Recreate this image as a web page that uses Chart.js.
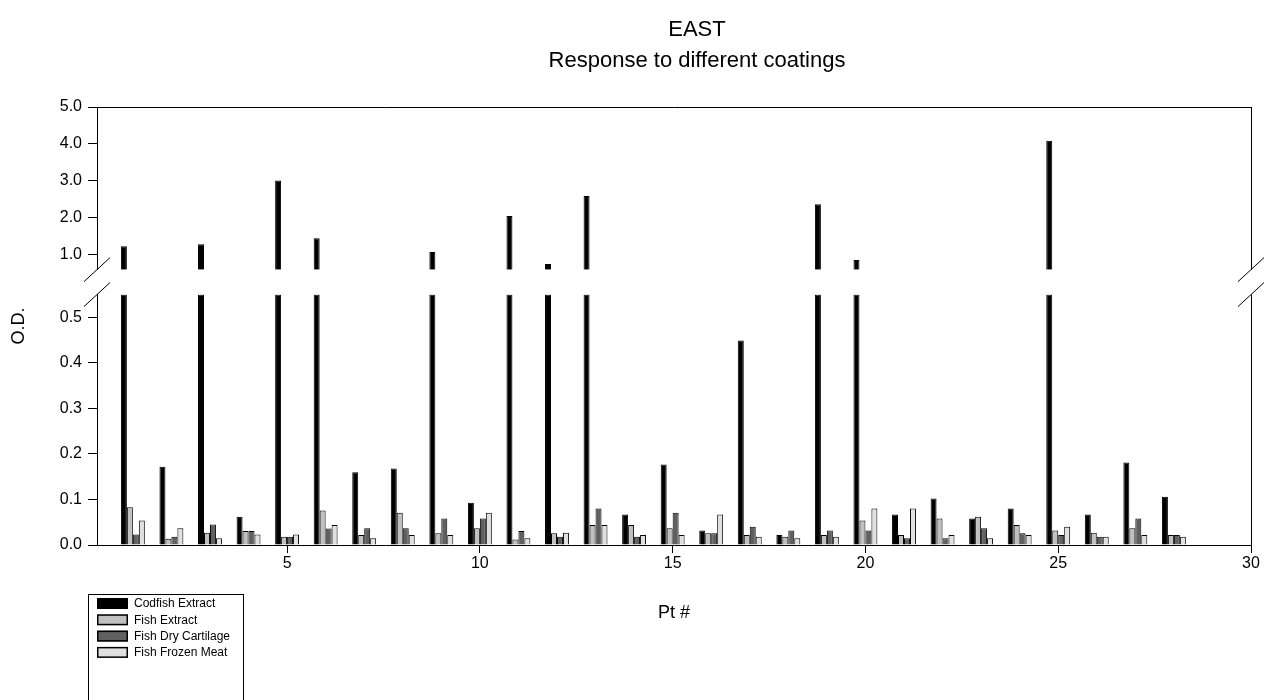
<!DOCTYPE html>
<html>
<head>
<meta charset="utf-8">
<script src="https://cdn.jsdelivr.net/npm/chart.js@4.4.1/dist/chart.umd.min.js"></script>
<style>
html,body{margin:0;padding:0;background:#fff;overflow:hidden}
#wrap{position:relative;width:1270px;height:700px}
</style>
</head>
<body>
<div id="wrap"><canvas id="c" width="1270" height="700"></canvas></div>
<script>
// ---- data ----
const titleLines = ['EAST', 'Response to different coatings'];
const xTitle = 'Pt #';
const yTitle = 'O.D.';
const seriesNames = ['Codfish Extract', 'Fish Extract', 'Fish Dry Cartilage', 'Fish Frozen Meat'];
const seriesColors = ['#000000', '#c0c0c0', '#606060', '#e0e0e0'];
const pts = [1,2,3,4,5,6,7,8,9,10,11,12,13,14,15,16,17,18,19,20,21,22,23,24,25,26,27,28];
const codfish      = [1.23,0.172,1.29,0.062,3.01,1.45,0.160,0.168,1.08,0.093,2.05,0.75,2.59,0.067,0.177,0.032,0.449,0.022,2.37,0.86,0.067,0.102,0.058,0.080,4.09,0.067,0.181,0.106];
const fishExtract  = [0.083,0.014,0.027,0.031,0.018,0.076,0.022,0.071,0.026,0.037,0.012,0.026,0.044,0.044,0.037,0.026,0.022,0.018,0.022,0.054,0.022,0.058,0.062,0.044,0.032,0.027,0.037,0.022];
const dryCartilage = [0.023,0.018,0.045,0.031,0.018,0.036,0.037,0.037,0.058,0.058,0.031,0.018,0.080,0.018,0.071,0.026,0.040,0.032,0.032,0.032,0.015,0.015,0.037,0.026,0.022,0.018,0.058,0.022];
const frozenMeat   = [0.054,0.037,0.015,0.023,0.023,0.044,0.015,0.022,0.022,0.071,0.015,0.027,0.044,0.022,0.022,0.067,0.018,0.015,0.018,0.080,0.080,0.022,0.015,0.022,0.040,0.018,0.022,0.018];
const xTicks = [5, 10, 15, 20, 25, 30];
const lowTicks = [0, 0.1, 0.2, 0.3, 0.4, 0.5];
const highTicks = [1, 2, 3, 4, 5];
const xRange = [0.07, 30];
const lowRange = [0, 0.55];
const highRange = [0.6, 5];

// ---- build ----
const FONT = '"Liberation Sans", Arial, sans-serif';
const series = [codfish, fishExtract, dryCartilage, frozenMeat];
const toXY = arr => arr.map((v, i) => ({x: pts[i], y: v}));
const lowPart = arr => arr.map(v => Math.min(v, lowRange[1]));
const highPart = arr => arr.map(v => (v > highRange[0] ? v : null));

const barStyle = (i) => ({
  backgroundColor: seriesColors[i],
  borderColor: '#000',
  borderWidth: 1,
  borderSkipped: 'start',
  categoryPercentage: 0.62,
  barPercentage: 1.0,
  stack: 's' + i
});

const datasets = series.map((arr, i) => Object.assign({
  label: seriesNames[i],
  data: toXY(lowPart(arr)),
  yAxisID: 'yLow'
}, barStyle(i)));
datasets.push(Object.assign({
  label: seriesNames[0] + ' (upper)',
  data: toXY(highPart(codfish)),
  yAxisID: 'yHigh',
  base: highRange[0]
}, barStyle(0)));

const tickFont = {family: FONT, size: 16};
const yAxisWidth = 97;

const yScale = (range, ticks, weight) => ({
  type: 'linear', axis: 'y', position: 'left', stack: 'od', stackWeight: weight,
  min: range[0], max: range[1], beginAtZero: false, stacked: false,
  afterBuildTicks: s => { s.ticks = ticks.map(v => ({value: v})); },
  afterFit: s => { s.width = yAxisWidth; },
  grid: {display: true, drawOnChartArea: false, drawTicks: true, tickLength: 9, color: '#000'},
  border: {display: true, color: '#000', width: 1},
  ticks: {color: '#000', font: tickFont, padding: 6, callback: v => Number(v).toFixed(1)}
});

const frame = {
  id: 'frame',
  afterDraw(chart) {
    const ctx = chart.ctx;
    const {left, right, top, bottom} = chart.chartArea;
    const hi = chart.scales.yHigh, lo = chart.scales.yLow;
    ctx.save();
    ctx.strokeStyle = '#000';
    ctx.lineWidth = 1;
    ctx.beginPath();
    const r = Math.round(right) + 0.5;
    ctx.moveTo(left, Math.round(hi.top) + 0.5); ctx.lineTo(r, Math.round(hi.top) + 0.5);
    ctx.moveTo(r, hi.top); ctx.lineTo(r, hi.bottom);
    ctx.moveTo(r, lo.top); ctx.lineTo(r, lo.bottom);
    [left, right].forEach(x => [hi.bottom, lo.top].forEach(y => {
      ctx.moveTo(x - 13, y + 12); ctx.lineTo(x + 13, y - 12);
    }));
    ctx.stroke();

    ctx.fillStyle = '#000';
    ctx.textAlign = 'center';
    ctx.textBaseline = 'middle';
    // y title
    ctx.font = '18px ' + FONT;
    ctx.save();
    ctx.translate(19, (top + bottom) / 2);
    ctx.rotate(-Math.PI / 2);
    ctx.fillText(yTitle, 0, 0);
    ctx.restore();
    // main title
    ctx.font = '22px ' + FONT;
    const cx = 697;
    ctx.fillText(titleLines[0], cx, 30);
    ctx.fillText(titleLines[1], cx, 61);

    // legend
    const lx = 88, ly = 594, lw = 155, lh = 120;
    ctx.strokeRect(lx + 0.5, ly + 0.5, lw, lh);
    ctx.font = '12px ' + FONT;
    ctx.textAlign = 'left';
    for (let i = 0; i < 4; i++) {
      const ds = chart.data.datasets[i];
      const y = 598 + i * 16.3;
      ctx.fillStyle = ds.backgroundColor;
      ctx.fillRect(97, y, 31, 11);
      ctx.lineWidth = 1.5;
      ctx.strokeRect(97.75, y + 0.75, 29.5, 9.5);
      ctx.lineWidth = 1;
      ctx.fillStyle = '#000';
      ctx.fillText(ds.label, 134, y + 6);
    }
    ctx.restore();
  }
};

new Chart(document.getElementById('c'), {
  type: 'bar',
  data: {datasets},
  options: {
    responsive: false,
    animation: false,
    devicePixelRatio: 1,
    layout: {padding: {left: 0, right: 19, top: 107, bottom: 76}},
    plugins: {legend: {display: false}, title: {display: false}, tooltip: {enabled: false}},
    scales: {
      x: {
        type: 'linear', min: xRange[0], max: xRange[1], offset: false,
        afterBuildTicks: s => { s.ticks = xTicks.map(v => ({value: v})); },
        afterFit: s => { s.height = 79; },
        grid: {display: true, offset: false, drawOnChartArea: false, drawTicks: true, tickLength: 8, color: '#000'},
        border: {display: true, color: '#000', width: 1},
        ticks: {color: '#000', font: tickFont, padding: 1, maxRotation: 0, callback: v => String(v)},
        title: {display: true, text: xTitle, color: '#000', font: {family: FONT, size: 18}, padding: {top: 0, bottom: 0}}
      },
      yLow: yScale(lowRange, lowTicks, 251),
      yGap: {type: 'linear', axis: 'y', position: 'left', stack: 'od', stackWeight: 25, display: false, min: 0, max: 1},
      yHigh: yScale(highRange, highTicks, 163)
    }
  },
  plugins: [frame]
});
</script>
</body>
</html>
